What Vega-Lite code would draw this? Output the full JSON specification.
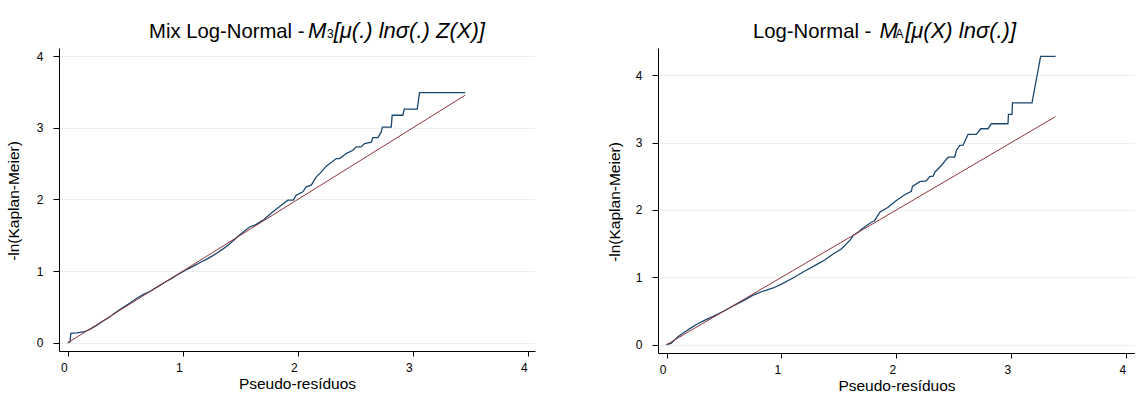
{
  "$schema": "https://vega.github.io/schema/vega-lite/v6.json",
  "background": "white",
  "padding": {"left": 6, "top": 19, "right": 0, "bottom": 0},
  "spacing": 72,
  "config": {
    "view": {"stroke": null},
    "font": "Liberation Sans",
    "axis": {
      "domainColor": "#000000",
      "tickColor": "#000000",
      "labelColor": "#000000",
      "titleColor": "#000000",
      "titleFontWeight": "normal",
      "labelFont": "Liberation Sans",
      "titleFont": "Liberation Sans",
      "labelFlush": false
    }
  },
  "datasets": {
    "km_mix": [
      {"x": 0, "y": 0}, {"x": 0.018, "y": 0.01}, {"x": 0.026, "y": 0.13}, {"x": 0.08, "y": 0.138},
      {"x": 0.145, "y": 0.153}, {"x": 0.19, "y": 0.185}, {"x": 0.25, "y": 0.24}, {"x": 0.3, "y": 0.295},
      {"x": 0.35, "y": 0.345}, {"x": 0.4, "y": 0.405}, {"x": 0.45, "y": 0.46}, {"x": 0.5, "y": 0.51},
      {"x": 0.55, "y": 0.565}, {"x": 0.6, "y": 0.62}, {"x": 0.65, "y": 0.668}, {"x": 0.7, "y": 0.705},
      {"x": 0.75, "y": 0.752}, {"x": 0.8, "y": 0.8}, {"x": 0.85, "y": 0.85}, {"x": 0.9, "y": 0.895},
      {"x": 0.95, "y": 0.945}, {"x": 1.0, "y": 0.99}, {"x": 1.05, "y": 1.035}, {"x": 1.1, "y": 1.075},
      {"x": 1.15, "y": 1.12}, {"x": 1.2, "y": 1.16}, {"x": 1.25, "y": 1.205}, {"x": 1.3, "y": 1.255},
      {"x": 1.35, "y": 1.31}, {"x": 1.4, "y": 1.37}, {"x": 1.45, "y": 1.44}, {"x": 1.493, "y": 1.502},
      {"x": 1.58, "y": 1.615}, {"x": 1.63, "y": 1.645}, {"x": 1.698, "y": 1.711}, {"x": 1.783, "y": 1.827},
      {"x": 1.856, "y": 1.92}, {"x": 1.913, "y": 1.99}, {"x": 1.96, "y": 1.99}, {"x": 1.986, "y": 2.06},
      {"x": 2.043, "y": 2.106}, {"x": 2.073, "y": 2.176}, {"x": 2.116, "y": 2.2}, {"x": 2.16, "y": 2.315},
      {"x": 2.19, "y": 2.36}, {"x": 2.247, "y": 2.464}, {"x": 2.334, "y": 2.571}, {"x": 2.363, "y": 2.571},
      {"x": 2.42, "y": 2.64}, {"x": 2.478, "y": 2.687}, {"x": 2.508, "y": 2.734}, {"x": 2.55, "y": 2.734},
      {"x": 2.58, "y": 2.78}, {"x": 2.64, "y": 2.8}, {"x": 2.652, "y": 2.864}, {"x": 2.696, "y": 2.864},
      {"x": 2.725, "y": 2.943}, {"x": 2.735, "y": 3.01}, {"x": 2.812, "y": 3.01}, {"x": 2.82, "y": 3.175},
      {"x": 2.913, "y": 3.175}, {"x": 2.925, "y": 3.26}, {"x": 3.038, "y": 3.26}, {"x": 3.058, "y": 3.49},
      {"x": 3.455, "y": 3.49}
    ],
    "ref_mix": [
      {"x": 0, "y": 0}, {"x": 3.455, "y": 3.455}
    ],
    "km_ln": [
      {"x": 0, "y": 0}, {"x": 0.04, "y": 0.02}, {"x": 0.1, "y": 0.12}, {"x": 0.145, "y": 0.175},
      {"x": 0.2, "y": 0.235}, {"x": 0.261, "y": 0.3}, {"x": 0.33, "y": 0.36}, {"x": 0.406, "y": 0.42},
      {"x": 0.5, "y": 0.5}, {"x": 0.58, "y": 0.575}, {"x": 0.67, "y": 0.655}, {"x": 0.754, "y": 0.735},
      {"x": 0.85, "y": 0.8}, {"x": 0.928, "y": 0.842}, {"x": 1.0, "y": 0.9}, {"x": 1.1, "y": 0.99},
      {"x": 1.2, "y": 1.09}, {"x": 1.305, "y": 1.189}, {"x": 1.38, "y": 1.26}, {"x": 1.45, "y": 1.347},
      {"x": 1.52, "y": 1.42}, {"x": 1.551, "y": 1.471}, {"x": 1.6, "y": 1.56}, {"x": 1.623, "y": 1.62},
      {"x": 1.667, "y": 1.669}, {"x": 1.71, "y": 1.733}, {"x": 1.783, "y": 1.818}, {"x": 1.81, "y": 1.84},
      {"x": 1.856, "y": 1.966}, {"x": 1.928, "y": 2.04}, {"x": 2.0, "y": 2.14}, {"x": 2.073, "y": 2.225},
      {"x": 2.13, "y": 2.275}, {"x": 2.14, "y": 2.35}, {"x": 2.203, "y": 2.42}, {"x": 2.26, "y": 2.43},
      {"x": 2.29, "y": 2.496}, {"x": 2.32, "y": 2.5}, {"x": 2.334, "y": 2.56}, {"x": 2.391, "y": 2.66},
      {"x": 2.45, "y": 2.783}, {"x": 2.507, "y": 2.785}, {"x": 2.522, "y": 2.883}, {"x": 2.551, "y": 2.957},
      {"x": 2.58, "y": 2.96}, {"x": 2.623, "y": 3.12}, {"x": 2.696, "y": 3.12}, {"x": 2.734, "y": 3.205},
      {"x": 2.797, "y": 3.205}, {"x": 2.826, "y": 3.279}, {"x": 2.971, "y": 3.279}, {"x": 2.975, "y": 3.418},
      {"x": 3.006, "y": 3.418}, {"x": 3.01, "y": 3.59}, {"x": 3.18, "y": 3.59}, {"x": 3.255, "y": 4.28},
      {"x": 3.385, "y": 4.28}
    ],
    "ref_ln": [
      {"x": 0, "y": 0}, {"x": 3.385, "y": 3.385}
    ]
  },
  "hconcat": [
    {
      "width": 476,
      "height": 303,
      "title": {
        "text": "Mix Log-Normal - ",
        "subtitle": "M\u2004[μ(.) lnσ(.) Z(X)]",
        "anchor": "start",
        "frame": "group",
        "font": "Liberation Sans",
        "fontSize": 20.3,
        "fontWeight": "normal",
        "color": "#000000",
        "subtitleFont": "Liberation Sans",
        "subtitleFontSize": 22,
        "subtitleFontStyle": "italic",
        "subtitleColor": "#000000",
        "subtitlePadding": -21.7,
        "offset": -17.6,
        "encode": {
          "title": {"update": {"dx": {"value": 90}}},
          "subtitle": {"update": {"dx": {"value": 249}}}
        }
      },
      "layer": [
        {
          "data": {"name": "km_mix"},
          "mark": {"type": "line", "color": "#1a476f", "strokeWidth": 1.3},
          "encoding": {
            "x": {
              "field": "x", "type": "quantitative",
              "scale": {"domain": [-0.077, 4.062], "nice": false, "zero": false},
              "axis": {
                "title": "Pseudo-resíduos", "values": [0, 1, 2, 3, 4], "format": "d",
                "grid": false, "tickSize": 5, "labelFontSize": 12, "labelPadding": 6, "labelOffset": -4,
                "titleFontSize": 15.5, "titleY": 37.3, "titleBaseline": "alphabetic"
              }
            },
            "y": {
              "field": "y", "type": "quantitative",
              "scale": {"domain": [-0.116, 4.114], "nice": false, "zero": false},
              "axis": {
                "title": "-ln(Kaplan-Meier)", "values": [0, 1, 2, 3, 4], "format": "d",
                "grid": true, "gridColor": "#e9f0f1", "gridWidth": 1,
                "tickSize": 6, "labelFontSize": 12, "labelPadding": 10,
                "titleFontSize": 15.5, "titleX": -41, "titleY": 152.5, "titleAngle": -90,
                "titleAlign": "center", "titleBaseline": "alphabetic"
              }
            }
          }
        },
        {
          "data": {"name": "ref_mix"},
          "mark": {"type": "line", "color": "#90353b", "strokeWidth": 1},
          "encoding": {
            "x": {
              "field": "x", "type": "quantitative",
              "scale": {"domain": [-0.077, 4.062], "nice": false, "zero": false},
              "axis": {
                "orient": "top", "title": "3", "domain": false, "ticks": false, "labels": false, "grid": false,
                "titleX": 267.5, "titleY": -11, "titleAlign": "left", "titleBaseline": "alphabetic",
                "titleAngle": 0, "titleFontSize": 12
              }
            },
            "y": {"field": "y", "type": "quantitative", "axis": {"title": "-ln(Kaplan-Meier)"}}
          }
        }
      ],
      "resolve": {"axis": {"x": "independent"}}
    },
    {
      "width": 477,
      "height": 305,
      "title": {
        "text": "Log-Normal - ",
        "subtitle": "M\u2004[μ(X) lnσ(.)]",
        "anchor": "start",
        "frame": "group",
        "font": "Liberation Sans",
        "fontSize": 20.3,
        "fontWeight": "normal",
        "color": "#000000",
        "subtitleFont": "Liberation Sans",
        "subtitleFontSize": 22,
        "subtitleFontStyle": "italic",
        "subtitleColor": "#000000",
        "subtitlePadding": -21.7,
        "offset": -17.6,
        "encode": {
          "title": {"update": {"dx": {"value": 95}}},
          "subtitle": {"update": {"dx": {"value": 221.5}}}
        }
      },
      "layer": [
        {
          "data": {"name": "km_ln"},
          "mark": {"type": "line", "color": "#1a476f", "strokeWidth": 1.3},
          "encoding": {
            "x": {
              "field": "x", "type": "quantitative",
              "scale": {"domain": [-0.074, 4.076], "nice": false, "zero": false},
              "axis": {
                "title": "Pseudo-resíduos", "values": [0, 1, 2, 3, 4], "format": "d",
                "grid": false, "tickSize": 5, "labelFontSize": 12, "labelPadding": 6, "labelOffset": -4,
                "titleFontSize": 15.5, "titleY": 37.3, "titleBaseline": "alphabetic"
              }
            },
            "y": {
              "field": "y", "type": "quantitative",
              "scale": {"domain": [-0.123, 4.403], "nice": false, "zero": false},
              "axis": {
                "title": "-ln(Kaplan-Meier)", "values": [0, 1, 2, 3, 4], "format": "d",
                "grid": true, "gridColor": "#e9f0f1", "gridWidth": 1,
                "tickSize": 6, "labelFontSize": 12, "labelPadding": 10,
                "titleFontSize": 15.5, "titleX": -39, "titleY": 153.5, "titleAngle": -90,
                "titleAlign": "center", "titleBaseline": "alphabetic"
              }
            }
          }
        },
        {
          "data": {"name": "ref_ln"},
          "mark": {"type": "line", "color": "#90353b", "strokeWidth": 1},
          "encoding": {
            "x": {
              "field": "x", "type": "quantitative",
              "scale": {"domain": [-0.074, 4.076], "nice": false, "zero": false},
              "axis": {
                "orient": "top", "title": "A", "domain": false, "ticks": false, "labels": false, "grid": false,
                "titleX": 237, "titleY": -11, "titleAlign": "left", "titleBaseline": "alphabetic",
                "titleAngle": 0, "titleFontSize": 12
              }
            },
            "y": {"field": "y", "type": "quantitative", "axis": {"title": "-ln(Kaplan-Meier)"}}
          }
        }
      ],
      "resolve": {"axis": {"x": "independent"}}
    }
  ]
}
